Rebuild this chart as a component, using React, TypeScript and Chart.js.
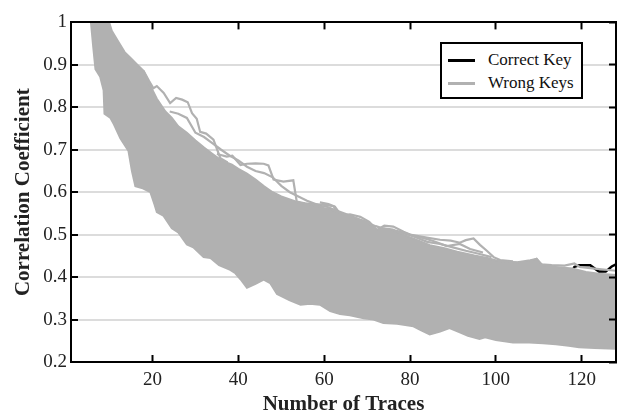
import { useEffect, useRef } from "react";
import { Chart, registerables } from "chart.js";

Chart.register(...registerables);

type Pt = [number, number];

// Axis ranges and tick labels
const xRange: [number, number] = [1, 128];
const yRange: [number, number] = [0.2, 1];
const xTickValues = [20, 40, 60, 80, 100, 120];
const yTickValues = [0.2, 0.3, 0.4, 0.5, 0.6, 0.7, 0.8, 0.9, 1];
const yTickLabels = ["0.2", "0.3", "0.4", "0.5", "0.6", "0.7", "0.8", "0.9", "1"];

// Upper edge of the dense bundle of wrong-key curves
const wrongUpper: Pt[] = [
  [5.5, 1.03], [9.6, 1.01], [10.5, 0.98], [12, 0.955], [13.5, 0.93], [15, 0.915],
  [16.5, 0.9], [17.9, 0.886], [19.5, 0.85], [21, 0.82], [23, 0.79], [24.5, 0.775],
  [26, 0.755], [28, 0.74], [30, 0.722], [32, 0.705], [34, 0.69], [36, 0.675],
  [38.5, 0.665], [40, 0.655], [42, 0.644], [44, 0.63], [46, 0.614], [48, 0.6],
  [50, 0.59], [52, 0.583], [54, 0.576], [57.5, 0.57], [60, 0.563], [62, 0.558],
  [64, 0.55], [67, 0.54], [70, 0.53], [72.3, 0.511], [74, 0.515], [76, 0.512],
  [78.4, 0.5], [81, 0.49], [84.6, 0.475], [88, 0.468], [91, 0.46], [95, 0.451],
  [98, 0.445], [101, 0.437], [105, 0.435], [108, 0.44], [109.5, 0.443], [111, 0.427],
  [114, 0.424], [117.8, 0.42], [121, 0.412], [124, 0.408], [128, 0.405],
];

// Lower edge of the same bundle
const wrongLower: Pt[] = [
  [5.5, 1.03], [5.65, 1.0], [6.2, 0.94], [6.7, 0.89], [7.8, 0.872], [8.6, 0.84],
  [8.8, 0.785], [10.2, 0.775], [11, 0.76], [12.5, 0.727], [14.4, 0.697], [15.2, 0.65],
  [16, 0.614], [17.5, 0.61], [19.5, 0.6], [20.5, 0.57], [21, 0.553], [22.5, 0.545],
  [24.5, 0.515], [26, 0.505], [28, 0.477], [29.5, 0.47], [31.9, 0.447], [33.5, 0.445],
  [35.5, 0.428], [38.1, 0.417], [39.3, 0.409], [40.5, 0.395], [42, 0.375], [44, 0.384],
  [45.9, 0.394], [47.4, 0.386], [49, 0.36], [52, 0.345], [54.5, 0.335], [56.7, 0.337],
  [59, 0.335], [61.4, 0.32], [63.7, 0.313], [66, 0.31], [69.2, 0.303], [71.5, 0.3],
  [73.8, 0.292], [77, 0.29], [80.8, 0.284], [82.5, 0.275], [84.6, 0.265], [87, 0.272],
  [89.2, 0.28], [91.6, 0.27], [93.5, 0.262], [96.2, 0.254], [97.5, 0.258], [100, 0.252],
  [104, 0.246], [107.8, 0.246], [111, 0.244], [114, 0.242], [117, 0.238], [119.4, 0.235],
  [123, 0.233], [128, 0.231],
];

// Wrong-key curves that stray above the bundle
const strayA: Pt[] = [
  [17.9, 0.886], [19.2, 0.862], [20.2, 0.845], [21, 0.85], [22.6, 0.834], [24.1, 0.81],
  [25.5, 0.822], [26.9, 0.818], [28.2, 0.812], [29.2, 0.786], [30.3, 0.773], [31.1, 0.742],
  [32.5, 0.738], [34.2, 0.724], [35.8, 0.68], [37.5, 0.67],
];
const strayB: Pt[] = [
  [35, 0.69], [37.3, 0.684], [38.6, 0.686], [40.5, 0.664], [42, 0.667], [44, 0.668],
  [45.9, 0.667], [47, 0.663], [48.2, 0.63], [50.5, 0.625], [52.8, 0.628], [53.6, 0.578],
  [55.5, 0.574], [57.5, 0.572], [60, 0.57], [62.2, 0.567], [63.7, 0.54], [66, 0.535],
];
const strayC: Pt[] = [
  [59, 0.576], [61, 0.572], [62.5, 0.566], [64, 0.545], [66, 0.548], [68.4, 0.542],
  [70.5, 0.53], [72.3, 0.511], [74, 0.521], [76.1, 0.519], [78.5, 0.507], [80.8, 0.497],
  [83, 0.492], [85.4, 0.485], [88.6, 0.473], [91.6, 0.478], [94, 0.466], [97, 0.458],
];
const strayD: Pt[] = [
  [76, 0.51], [77.7, 0.507], [80, 0.5], [83.9, 0.493], [87, 0.488], [89.5, 0.486],
  [91.6, 0.481], [93, 0.487], [94.8, 0.491], [96.3, 0.476], [97.9, 0.462], [99.5, 0.447],
  [101, 0.44], [104, 0.437],
];
const strayE: Pt[] = [
  [104, 0.435], [107, 0.432], [109.5, 0.443], [110.5, 0.43], [113, 0.428], [116, 0.427],
  [118.3, 0.432], [119.5, 0.424], [123, 0.42], [128, 0.415],
];
const strayF: Pt[] = [
  [24, 0.79], [26, 0.785], [28, 0.775], [30, 0.74], [32, 0.73], [34, 0.715], [36, 0.7],
  [38, 0.686], [40, 0.675], [42, 0.66], [44, 0.65], [46, 0.645], [48, 0.635], [50, 0.615],
  [52, 0.6], [54, 0.59], [56, 0.58], [58, 0.572], [60, 0.565],
];
const strayG: Pt[] = [
  [60, 0.568], [63, 0.556], [66, 0.545], [69, 0.532], [72, 0.52], [75, 0.51], [78, 0.505],
  [81, 0.495], [84, 0.483], [87, 0.478], [90, 0.47], [93, 0.462], [96, 0.455], [99, 0.447],
];

// Correct-key correlation
const correctKey: Pt[] = [
  [5.5, 1.02], [8, 0.93], [10, 0.88], [15, 0.78], [20, 0.72], [25, 0.66], [30, 0.61],
  [35, 0.57], [40, 0.54], [45, 0.52], [50, 0.5], [55, 0.485], [60, 0.47], [65, 0.46],
  [70, 0.45], [75, 0.44], [80, 0.435], [85, 0.43], [90, 0.425], [95, 0.418], [100, 0.412],
  [106.4, 0.409], [109.5, 0.407], [112, 0.41], [115, 0.405], [117.5, 0.408], [118.3, 0.424],
  [119.4, 0.428], [122, 0.428], [124, 0.413], [125.6, 0.413], [127, 0.425], [128, 0.43],
];

const SERIF = "'Liberation Serif', 'Times New Roman', serif";
const GRAY = "#b1b1b1";
const TEXT = "#222";

const toXY = (pts: Pt[]) => pts.map(([x, y]) => ({ x, y }));

export default function App() {
  const canvasRef = useRef<HTMLCanvasElement | null>(null);

  useEffect(() => {
    const canvas = canvasRef.current;
    if (!canvas) return;

    const strand = (pts: Pt[]) => ({
      label: "Wrong Keys",
      data: toXY(pts),
      borderColor: GRAY,
      borderWidth: 2.2,
      pointRadius: 0,
      fill: false,
      order: 1,
    });

    const tickMarks = { drawOnChartArea: false, tickLength: -7, tickWidth: 2, tickColor: "#000", z: 1 };
    const frame = { color: "#000", width: 2, z: 1 };

    const chart = new Chart(canvas, {
      type: "line",
      data: {
        datasets: [
          {
            label: "Wrong Keys",
            data: toXY(wrongUpper),
            borderColor: GRAY,
            backgroundColor: GRAY,
            borderWidth: 2,
            pointRadius: 0,
            fill: "+1",
            order: 1,
          },
          {
            label: "Wrong Keys",
            data: toXY(wrongLower),
            borderColor: GRAY,
            borderWidth: 2,
            pointRadius: 0,
            fill: false,
            order: 1,
          },
          strand(strayA),
          strand(strayB),
          strand(strayC),
          strand(strayD),
          strand(strayE),
          strand(strayF),
          strand(strayG),
          {
            label: "Correct Key",
            data: toXY(correctKey),
            borderColor: "#000",
            borderWidth: 2.5,
            pointRadius: 0,
            fill: false,
            order: 2,
          },
        ],
      },
      options: {
        responsive: false,
        animation: false,
        devicePixelRatio: 1,
        layout: { padding: 0 },
        elements: { line: { tension: 0 } },
        plugins: {
          legend: { display: false },
          tooltip: { enabled: false },
        },
        scales: {
          x: {
            type: "linear",
            position: "bottom",
            min: xRange[0],
            max: xRange[1],
            afterBuildTicks: (s: any) => {
              s.ticks = xTickValues.map((v) => ({ value: v }));
            },
            afterFit: (s: any) => {
              s.height = 58;
            },
            grid: tickMarks,
            border: frame,
            ticks: {
              autoSkip: false,
              maxRotation: 0,
              padding: 14,
              color: TEXT,
              font: { family: SERIF, size: 19 },
            },
            title: {
              display: true,
              text: "Number of Traces",
              color: TEXT,
              font: { family: SERIF, size: 21, weight: "bold" },
              padding: { top: 0, bottom: 3 },
            },
          },
          xTop: {
            type: "linear",
            position: "top",
            min: xRange[0],
            max: xRange[1],
            afterBuildTicks: (s: any) => {
              s.ticks = xTickValues.map((v) => ({ value: v }));
            },
            afterFit: (s: any) => {
              s.height = 10;
            },
            grid: tickMarks,
            border: frame,
            ticks: { display: false },
          },
          y: {
            type: "linear",
            position: "left",
            min: yRange[0],
            max: yRange[1],
            afterBuildTicks: (s: any) => {
              s.ticks = yTickValues.map((v) => ({ value: v }));
            },
            afterFit: (s: any) => {
              s.width = 71;
            },
            grid: {
              color: "#dcdcdc",
              lineWidth: 2,
              tickLength: -7,
              tickWidth: 2,
              tickColor: "#000",
            },
            border: frame,
            ticks: {
              autoSkip: false,
              padding: 11,
              color: TEXT,
              font: { family: SERIF, size: 19 },
              callback: (v: any) => {
                const i = yTickValues.findIndex((t) => Math.abs(t - Number(v)) < 1e-9);
                return i >= 0 ? yTickLabels[i] : "";
              },
            },
            title: {
              display: true,
              text: "Correlation Coefficient",
              color: TEXT,
              font: { family: SERIF, size: 21, weight: "bold" },
              padding: { top: 11, bottom: 0 },
            },
          },
          yRight: {
            type: "linear",
            position: "right",
            min: yRange[0],
            max: yRange[1],
            afterBuildTicks: (s: any) => {
              s.ticks = yTickValues.map((v) => ({ value: v }));
            },
            afterFit: (s: any) => {
              s.width = 13;
            },
            grid: tickMarks,
            border: frame,
            ticks: { display: false },
          },
        },
      } as any,
    });

    return () => chart.destroy();
  }, []);

  const legendLine = (color: string, top: number) => ({
    position: "absolute" as const,
    left: 6,
    top,
    width: 27,
    height: 3,
    background: color,
  });
  const legendText = (top: number) => ({
    position: "absolute" as const,
    left: 46,
    top,
    fontFamily: SERIF,
    fontSize: 17,
    lineHeight: "20px",
    color: "#111",
    whiteSpace: "nowrap" as const,
  });

  return (
    <div
      style={{
        position: "fixed",
        left: 0,
        top: 0,
        width: 629,
        height: 420,
        background: "#fff",
        overflow: "hidden",
      }}
    >
      <canvas ref={canvasRef} width={629} height={420} style={{ display: "block" }} />
      <div
        style={{
          position: "absolute",
          left: 440,
          top: 42,
          width: 139,
          height: 53,
          border: "2px solid #000",
          background: "#fff",
        }}
      >
        <div style={legendLine("#000", 15)} />
        <div style={legendText(6)}>Correct Key</div>
        <div style={legendLine(GRAY, 38)} />
        <div style={legendText(29)}>Wrong Keys</div>
      </div>
    </div>
  );
}
